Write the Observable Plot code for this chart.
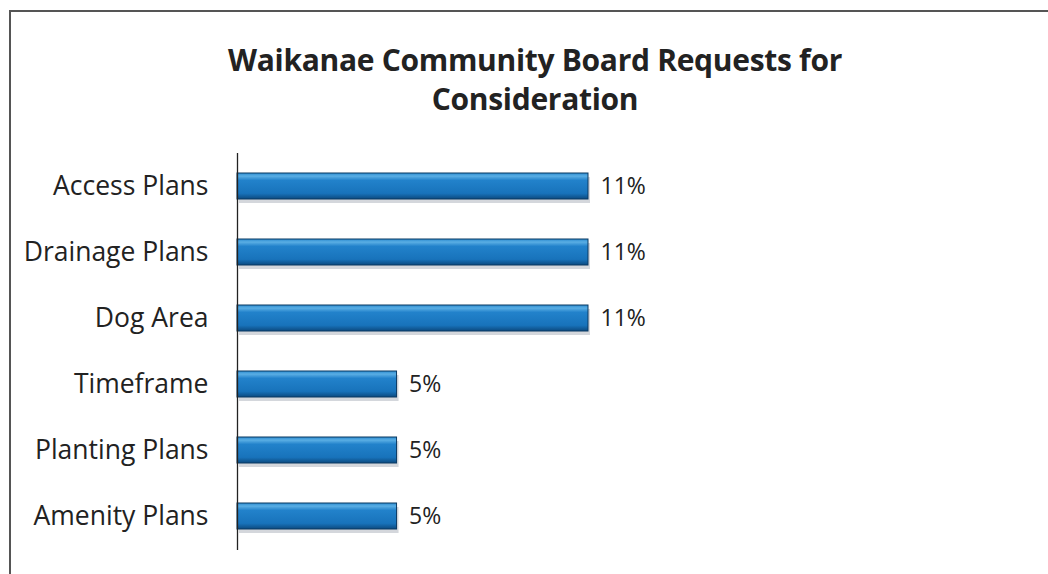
<!DOCTYPE html>
<html>
<head>
<meta charset="utf-8">
<script src="https://cdn.jsdelivr.net/npm/d3@7"></script>
<script src="https://cdn.jsdelivr.net/npm/@observablehq/plot@0.6"></script>
<style>
  html, body { margin: 0; padding: 0; background: #fff; }
  #wrap { position: relative; width: 1048px; height: 574px; overflow: hidden; background: #fff; font-family: "Open Sans", Lato, sans-serif; }
  #frame { position: absolute; left: 9px; top: 10px; width: 1100px; height: 600px; border-top: 2px solid #555; border-left: 2px solid #555; box-sizing: border-box; }
  #title { position: absolute; left: 0; width: 1070px; top: 40px; text-align: center; font-weight: 700; font-size: 30px; line-height: 39px; color: #222; letter-spacing: -0.3px; }
  #chart { position: absolute; left: 0; top: 0; }
</style>
</head>
<body>
<div id="wrap">
  <div id="frame"></div>
  <div id="title">Waikanae Community Board Requests for<br>Consideration</div>
  <div id="chart"></div>
</div>
<script>
const categories = ["Access Plans", "Drainage Plans", "Dog Area", "Timeframe", "Planting Plans", "Amenity Plans"];
const values = [11, 11, 11, 5, 5, 5];
const valueLabels = ["11%", "11%", "11%", "5%", "5%", "5%"];

const data = categories.map((c, i) => ({category: c, value: values[i], label: valueLabels[i]}));

const plot = Plot.plot({
  width: 1048,
  height: 574,
  marginTop: 153,
  marginBottom: 24,
  marginLeft: 237,
  marginRight: 460,
  style: {background: "transparent", fontFamily: "'Open Sans', Lato, sans-serif", overflow: "visible"},
  x: {domain: [0, 11], axis: null},
  y: {domain: categories, paddingInner: 0.6, paddingOuter: 0.3, label: null},
  marks: [
    Plot.axisY({tickSize: 0, tickPadding: 29, fontSize: 26.5, color: "#222", label: null}),
    Plot.barX(data, {x: "value", y: "category", fill: "#b8bcc4", dy: 4, dx: 2, opacity: 0.6}),
    Plot.barX(data, {x: "value", y: "category", fill: "url(#barGrad)", stroke: "#0b3a63", strokeWidth: 1}),
    Plot.ruleX([0], {stroke: "#222", strokeWidth: 1.3}),
    Plot.text(data, {x: "value", y: "category", text: "label", textAnchor: "start", dx: 12, fontSize: 23, fill: "#222"})
  ]
});

const defs = document.createElementNS("http://www.w3.org/2000/svg", "defs");
defs.innerHTML = `<linearGradient id="barGrad" x1="0" y1="0" x2="0" y2="1">
  <stop offset="0" stop-color="#2a8ad0"/>
  <stop offset="0.12" stop-color="#5aaee4"/>
  <stop offset="0.28" stop-color="#2282cb"/>
  <stop offset="0.78" stop-color="#1873bb"/>
  <stop offset="1" stop-color="#0c4a80"/>
</linearGradient>`;
plot.insertBefore(defs, plot.firstChild);
document.getElementById("chart").appendChild(plot);
</script>
</body>
</html>
